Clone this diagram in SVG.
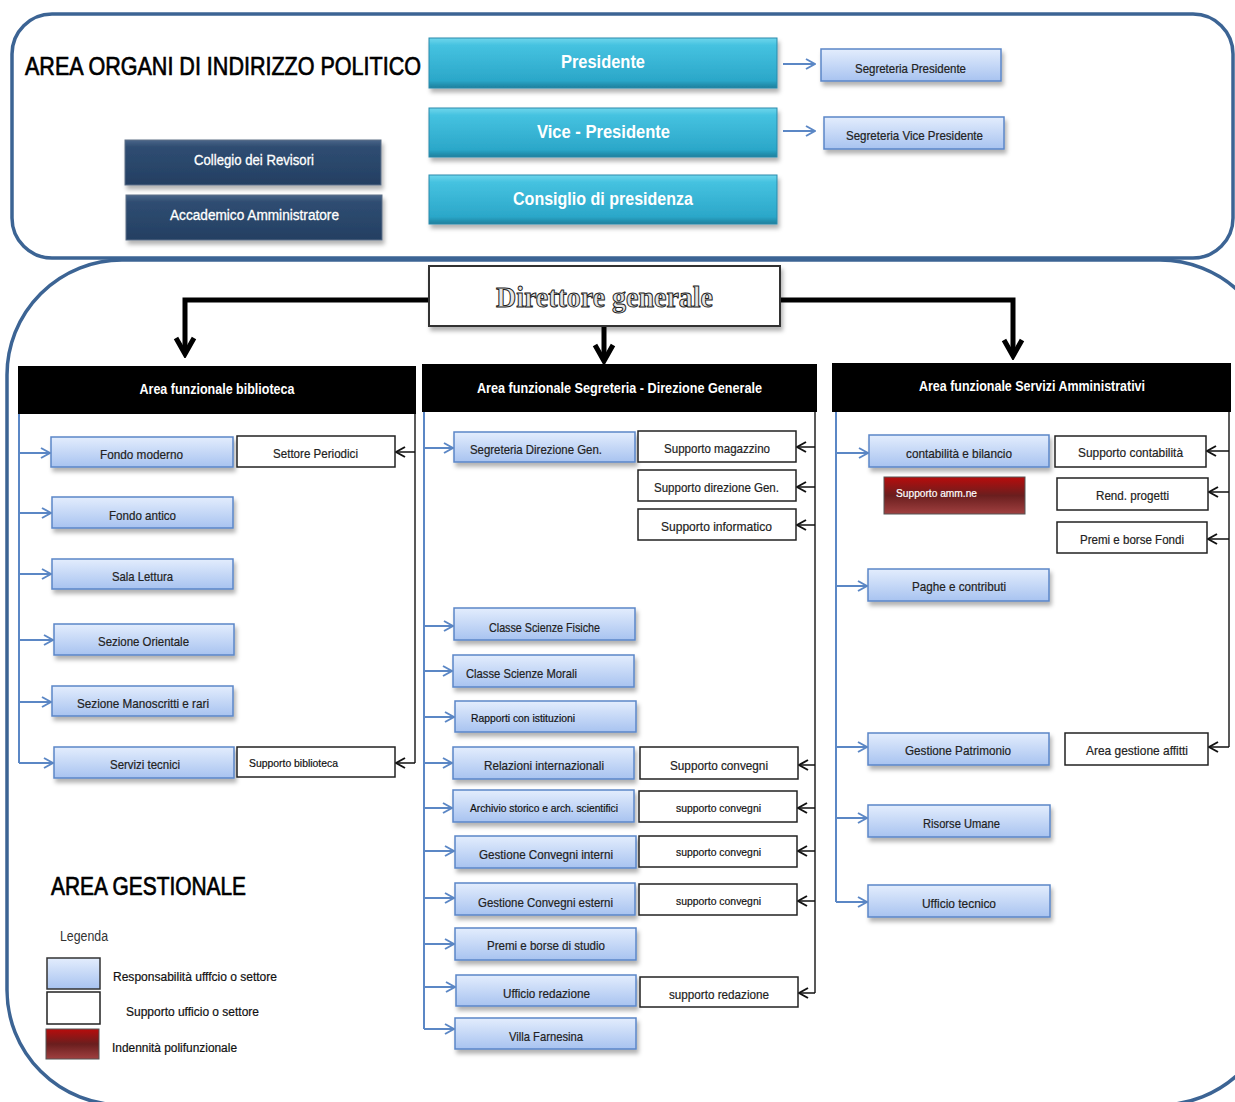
<svg xmlns="http://www.w3.org/2000/svg" width="1235" height="1102" viewBox="0 0 1235 1102">
<defs>
<linearGradient id="gBlue" x1="0" y1="0" x2="0" y2="1"><stop offset="0" stop-color="#e3edfd"/><stop offset="1" stop-color="#a8c3f0"/></linearGradient>
<linearGradient id="gTeal" x1="0" y1="0" x2="0" y2="1"><stop offset="0" stop-color="#6fd6ec"/><stop offset="0.15" stop-color="#45c2e0"/><stop offset="0.85" stop-color="#2ba7c9"/><stop offset="1" stop-color="#1d7f9c"/></linearGradient>
<linearGradient id="gNavy" x1="0" y1="0" x2="0" y2="1"><stop offset="0" stop-color="#4a6689"/><stop offset="0.15" stop-color="#2f4d72"/><stop offset="1" stop-color="#243f62"/></linearGradient>
<linearGradient id="gRed" x1="0" y1="0" x2="0" y2="1"><stop offset="0" stop-color="#b80c0c"/><stop offset="0.5" stop-color="#6a1e1e"/><stop offset="1" stop-color="#a04040"/></linearGradient>
<filter id="sh" x="-10%" y="-20%" width="125%" height="160%"><feDropShadow dx="2" dy="4" stdDeviation="2" flood-color="#000" flood-opacity="0.3"/></filter>
<marker id="mBlue" viewBox="0 0 12 12" markerWidth="12" markerHeight="12" markerUnits="userSpaceOnUse" refX="11" refY="6" orient="auto"><path d="M2,1 L11,6 L2,11" fill="none" stroke="#5b87c5" stroke-width="2"/></marker>
<marker id="mBlack" viewBox="0 0 12 12" markerWidth="12" markerHeight="12" markerUnits="userSpaceOnUse" refX="11" refY="6" orient="auto"><path d="M2,1 L11,6 L2,11" fill="none" stroke="#111" stroke-width="2"/></marker>
<marker id="mBig" viewBox="0 0 24 24" markerWidth="24" markerHeight="24" markerUnits="userSpaceOnUse" refX="20" refY="12" orient="auto"><path d="M4,3 L20,12 L4,21" fill="none" stroke="#000" stroke-width="5"/></marker>
<style>
.t{font-family:"Liberation Sans Narrow","Liberation Sans",Arial,sans-serif;}
.bx{fill:url(#gBlue);stroke:#5b86c8;stroke-width:1.5;filter:url(#sh);}
.wb{fill:#fff;stroke:#222;stroke-width:1.5;}
.teal{fill:url(#gTeal);stroke:#2a8aab;stroke-width:1;filter:url(#sh);}
.navy{fill:url(#gNavy);stroke:#5d6f86;stroke-width:1;filter:url(#sh);}
.hdr{fill:#000;}
.bt{font-size:13px;fill:#222;stroke:#222;stroke-width:0.2;}
.st{font-size:11px;fill:#111;stroke:#111;stroke-width:0.2;}
.ht{font-size:15px;fill:#fff;font-weight:bold;}
.cb{fill:none;stroke:#5b87c5;stroke-width:2;}
.ck{fill:none;stroke:#222;stroke-width:1.5;}
.bl{fill:none;stroke:#5b87c5;stroke-width:2;marker-end:url(#mBlue);}
.bk{fill:none;stroke:#111;stroke-width:1.5;marker-end:url(#mBlack);}
.big{fill:none;stroke:#000;stroke-width:5;marker-end:url(#mBig);}
.frame{fill:none;stroke:#3c6494;stroke-width:3.5;}
.title{font-size:26px;fill:#000;stroke:#000;stroke-width:0.7;}
</style>
</defs>
<rect width="1235" height="1102" fill="#fff"/>

<g id="containers">
<rect class="frame" x="12" y="14" width="1221" height="244" rx="40"/>
<rect class="frame" x="7" y="260" width="1268" height="845" rx="115"/>
<text class="t title" x="25" y="75" textLength="396" lengthAdjust="spacingAndGlyphs">AREA ORGANI DI INDIRIZZO POLITICO</text>
</g>

<g id="connectors">
<line class="bl" x1="783" y1="64" x2="815" y2="64"/>
<line class="bl" x1="783" y1="131" x2="815" y2="131"/>
<path class="big" d="M429,300 H185 V354"/>
<path class="big" d="M780,300 H1013 V356"/>
<path class="big" d="M604,326 V361"/>
<!-- biblioteca -->
<path class="cb" d="M19,414 V763"/>
<path class="ck" d="M415,414 V763"/>
<line class="bl" x1="19" y1="453" x2="50" y2="453"/>
<line class="bl" x1="19" y1="513" x2="51" y2="513"/>
<line class="bl" x1="19" y1="574" x2="51" y2="574"/>
<line class="bl" x1="19" y1="640" x2="53" y2="640"/>
<line class="bl" x1="19" y1="702" x2="51" y2="702"/>
<line class="bl" x1="19" y1="763" x2="53" y2="763"/>
<line class="bk" x1="415" y1="452" x2="396" y2="452"/>
<line class="bk" x1="415" y1="763" x2="396" y2="763"/>
<!-- segreteria -->
<path class="cb" d="M424,412 V1029"/>
<path class="ck" d="M815,412 V993"/>
<line class="bl" x1="424" y1="448" x2="453" y2="448"/>
<line class="bl" x1="424" y1="626" x2="453" y2="626"/>
<line class="bl" x1="424" y1="671" x2="452" y2="671"/>
<line class="bl" x1="424" y1="717" x2="454" y2="717"/>
<line class="bl" x1="424" y1="763" x2="452" y2="763"/>
<line class="bl" x1="424" y1="808" x2="452" y2="808"/>
<line class="bl" x1="424" y1="851" x2="454" y2="851"/>
<line class="bl" x1="424" y1="898" x2="454" y2="898"/>
<line class="bl" x1="424" y1="944" x2="454" y2="944"/>
<line class="bl" x1="424" y1="987" x2="455" y2="987"/>
<line class="bl" x1="424" y1="1029" x2="454" y2="1029"/>
<line class="bk" x1="815" y1="447" x2="797" y2="447"/>
<line class="bk" x1="815" y1="487" x2="797" y2="487"/>
<line class="bk" x1="815" y1="525" x2="797" y2="525"/>
<line class="bk" x1="815" y1="765" x2="799" y2="765"/>
<line class="bk" x1="815" y1="808" x2="798" y2="808"/>
<line class="bk" x1="815" y1="851" x2="798" y2="851"/>
<line class="bk" x1="815" y1="901" x2="798" y2="901"/>
<line class="bk" x1="815" y1="993" x2="799" y2="993"/>
<!-- servizi amministrativi -->
<path class="cb" d="M836,412 V902"/>
<path class="ck" d="M1229,412 V747"/>
<line class="bl" x1="836" y1="453" x2="868" y2="453"/>
<line class="bl" x1="836" y1="586" x2="867" y2="586"/>
<line class="bl" x1="836" y1="747" x2="867" y2="747"/>
<line class="bl" x1="836" y1="818" x2="867" y2="818"/>
<line class="bl" x1="836" y1="902" x2="867" y2="902"/>
<line class="bk" x1="1229" y1="451" x2="1207" y2="451"/>
<line class="bk" x1="1229" y1="492" x2="1209" y2="492"/>
<line class="bk" x1="1229" y1="539" x2="1208" y2="539"/>
<line class="bk" x1="1229" y1="747" x2="1209" y2="747"/>
</g>

<!-- top area -->
<g id="presidente"><rect class="teal" x="429" y="38" width="348" height="50"/><text class="t" x="603" y="68" text-anchor="middle" font-size="18" font-weight="bold" fill="#fff" textLength="84" lengthAdjust="spacingAndGlyphs">Presidente</text></g>
<g id="vice-presidente"><rect class="teal" x="429" y="108" width="348" height="49"/><text class="t" x="603.5" y="138" text-anchor="middle" font-size="18" font-weight="bold" fill="#fff" textLength="133" lengthAdjust="spacingAndGlyphs">Vice - Presidente</text></g>
<g id="consiglio"><rect class="teal" x="429" y="175" width="348" height="49"/><text class="t" x="603" y="205" text-anchor="middle" font-size="18" font-weight="bold" fill="#fff" textLength="180" lengthAdjust="spacingAndGlyphs">Consiglio di presidenza</text></g>
<g id="segr-presidente"><rect class="bx" x="821" y="49" width="180" height="32"/><text class="t bt" x="910.5" y="73" text-anchor="middle" font-size="12" textLength="111" lengthAdjust="spacingAndGlyphs">Segreteria Presidente</text></g>
<g id="segr-vice"><rect class="bx" x="824" y="117" width="180" height="32"/><text class="t bt" x="914.5" y="140" text-anchor="middle" font-size="12" textLength="137" lengthAdjust="spacingAndGlyphs">Segreteria Vice Presidente</text></g>
<g id="collegio"><rect class="navy" x="125" y="140" width="256" height="45"/><text class="t" x="254" y="165" text-anchor="middle" font-size="14" fill="#fff" stroke="#fff" stroke-width="0.3" textLength="120" lengthAdjust="spacingAndGlyphs">Collegio dei Revisori</text></g>
<g id="accademico"><rect class="navy" x="126" y="195" width="256" height="45"/><text class="t" x="254.5" y="220" text-anchor="middle" font-size="14" fill="#fff" stroke="#fff" stroke-width="0.3" textLength="169" lengthAdjust="spacingAndGlyphs">Accademico Amministratore</text></g>

<g id="direttore"><rect x="429" y="266" width="351" height="60" fill="#fff" stroke="#333" stroke-width="2" filter="url(#sh)"/><text x="604.5" y="307" text-anchor="middle" font-family="'Liberation Serif','DejaVu Serif',serif" font-size="29" font-weight="bold" fill="#e6e6e6" stroke="#222" stroke-width="1" textLength="217" lengthAdjust="spacingAndGlyphs">Direttore generale</text></g>

<!-- headers -->
<g id="hdr-biblioteca"><rect class="hdr" x="18" y="366" width="398" height="48"/><text class="t ht" x="217" y="394" text-anchor="middle" textLength="155" lengthAdjust="spacingAndGlyphs">Area funzionale biblioteca</text></g>
<g id="hdr-segreteria"><rect class="hdr" x="422" y="364" width="395" height="48"/><text class="t ht" x="619.5" y="393" text-anchor="middle" textLength="285" lengthAdjust="spacingAndGlyphs">Area funzionale Segreteria  - Direzione Generale</text></g>
<g id="hdr-servizi"><rect class="hdr" x="832" y="363" width="399" height="49"/><text class="t ht" x="1032" y="391" text-anchor="middle" textLength="226" lengthAdjust="spacingAndGlyphs">Area funzionale Servizi Amministrativi</text></g>

<!-- biblioteca -->
<g id="fondo-moderno"><rect class="bx" x="51" y="437" width="182" height="30"/><text class="t bt" x="141.5" y="459" text-anchor="middle" textLength="83" lengthAdjust="spacingAndGlyphs">Fondo moderno</text></g>
<g id="settore-periodici"><rect class="wb" x="237" y="436" width="158" height="31"/><text class="t bt" x="315.5" y="458" text-anchor="middle" textLength="85" lengthAdjust="spacingAndGlyphs">Settore Periodici</text></g>
<g id="fondo-antico"><rect class="bx" x="52" y="497" width="181" height="31"/><text class="t bt" x="142.5" y="520" text-anchor="middle" textLength="67" lengthAdjust="spacingAndGlyphs">Fondo antico</text></g>
<g id="sala-lettura"><rect class="bx" x="52" y="559" width="181" height="30"/><text class="t bt" x="142.5" y="581" text-anchor="middle" textLength="61" lengthAdjust="spacingAndGlyphs">Sala Lettura</text></g>
<g id="sezione-orientale"><rect class="bx" x="54" y="624" width="180" height="31"/><text class="t bt" x="143.5" y="646" text-anchor="middle" textLength="91" lengthAdjust="spacingAndGlyphs">Sezione Orientale</text></g>
<g id="sezione-manoscritti"><rect class="bx" x="52" y="686" width="181" height="30"/><text class="t bt" x="143" y="708" text-anchor="middle" textLength="132" lengthAdjust="spacingAndGlyphs">Sezione Manoscritti e rari</text></g>
<g id="servizi-tecnici"><rect class="bx" x="54" y="747" width="180" height="31"/><text class="t bt" x="145" y="769" text-anchor="middle" textLength="70" lengthAdjust="spacingAndGlyphs">Servizi tecnici</text></g>
<g id="supporto-biblioteca"><rect class="wb" x="237" y="747" width="158" height="30"/><text class="t st" x="249" y="767" textLength="89" lengthAdjust="spacingAndGlyphs">Supporto biblioteca</text></g>

<!-- segreteria -->
<g id="segreteria-dg"><rect class="bx" x="454" y="432" width="181" height="30"/><text class="t bt" x="536" y="454" text-anchor="middle" textLength="132" lengthAdjust="spacingAndGlyphs">Segreteria Direzione Gen.</text></g>
<g id="supporto-magazzino"><rect class="wb" x="638" y="431" width="158" height="31"/><text class="t bt" x="717" y="453" text-anchor="middle" textLength="106" lengthAdjust="spacingAndGlyphs">Supporto magazzino</text></g>
<g id="supporto-direzione"><rect class="wb" x="638" y="470" width="158" height="31"/><text class="t bt" x="716.5" y="492" text-anchor="middle" textLength="125" lengthAdjust="spacingAndGlyphs">Supporto direzione Gen.</text></g>
<g id="supporto-informatico"><rect class="wb" x="638" y="509" width="158" height="31"/><text class="t bt" x="716.5" y="531" text-anchor="middle" textLength="111" lengthAdjust="spacingAndGlyphs">Supporto informatico</text></g>
<g id="classe-fisiche"><rect class="bx" x="454" y="608" width="181" height="32"/><text class="t bt" x="544.5" y="632" text-anchor="middle" textLength="111" lengthAdjust="spacingAndGlyphs">Classe Scienze Fisiche</text></g>
<g id="classe-morali"><rect class="bx" x="453" y="655" width="181" height="32"/><text class="t bt" x="521.5" y="678" text-anchor="middle" textLength="111" lengthAdjust="spacingAndGlyphs">Classe Scienze Morali</text></g>
<g id="rapporti"><rect class="bx" x="455" y="701" width="181" height="31"/><text class="t st" x="523" y="722" text-anchor="middle" textLength="104" lengthAdjust="spacingAndGlyphs">Rapporti con istituzioni</text></g>
<g id="relazioni"><rect class="bx" x="453" y="747" width="181" height="32"/><text class="t bt" x="544" y="770" text-anchor="middle" textLength="120" lengthAdjust="spacingAndGlyphs">Relazioni internazionali</text></g>
<g id="supporto-convegni-1"><rect class="wb" x="640" y="747" width="158" height="32"/><text class="t bt" x="719" y="770" text-anchor="middle" textLength="98" lengthAdjust="spacingAndGlyphs">Supporto convegni</text></g>
<g id="archivio"><rect class="bx" x="453" y="790" width="181" height="32"/><text class="t st" x="544" y="812" text-anchor="middle" textLength="148" lengthAdjust="spacingAndGlyphs">Archivio storico e arch. scientifici</text></g>
<g id="supporto-convegni-2"><rect class="wb" x="639" y="791" width="158" height="31"/><text class="t st" x="718.5" y="812" text-anchor="middle" textLength="85" lengthAdjust="spacingAndGlyphs">supporto convegni</text></g>
<g id="convegni-interni"><rect class="bx" x="455" y="836" width="181" height="32"/><text class="t bt" x="546" y="859" text-anchor="middle" textLength="134" lengthAdjust="spacingAndGlyphs">Gestione Convegni interni</text></g>
<g id="supporto-convegni-3"><rect class="wb" x="639" y="836" width="158" height="31"/><text class="t st" x="718.5" y="856" text-anchor="middle" textLength="85" lengthAdjust="spacingAndGlyphs">supporto convegni</text></g>
<g id="convegni-esterni"><rect class="bx" x="455" y="883" width="180" height="32"/><text class="t bt" x="545.5" y="907" text-anchor="middle" textLength="135" lengthAdjust="spacingAndGlyphs">Gestione Convegni esterni</text></g>
<g id="supporto-convegni-4"><rect class="wb" x="639" y="884" width="158" height="31"/><text class="t st" x="718.5" y="905" text-anchor="middle" textLength="85" lengthAdjust="spacingAndGlyphs">supporto convegni</text></g>
<g id="premi-borse-studio"><rect class="bx" x="455" y="928" width="181" height="32"/><text class="t bt" x="546" y="950" text-anchor="middle" textLength="118" lengthAdjust="spacingAndGlyphs">Premi e borse di studio</text></g>
<g id="ufficio-redazione"><rect class="bx" x="456" y="975" width="180" height="31"/><text class="t bt" x="546.5" y="998" text-anchor="middle" textLength="87" lengthAdjust="spacingAndGlyphs">Ufficio redazione</text></g>
<g id="supporto-redazione"><rect class="wb" x="640" y="977" width="158" height="30"/><text class="t bt" x="719" y="999" text-anchor="middle" textLength="100" lengthAdjust="spacingAndGlyphs">supporto redazione</text></g>
<g id="villa-farnesina"><rect class="bx" x="455" y="1018" width="181" height="31"/><text class="t bt" x="546" y="1041" text-anchor="middle" textLength="74" lengthAdjust="spacingAndGlyphs">Villa Farnesina</text></g>

<!-- servizi amministrativi -->
<g id="contabilita"><rect class="bx" x="869" y="435" width="180" height="32"/><text class="t bt" x="959" y="458" text-anchor="middle" textLength="106" lengthAdjust="spacingAndGlyphs">contabilità e bilancio</text></g>
<g id="supporto-contabilita"><rect class="wb" x="1055" y="436" width="151" height="31"/><text class="t bt" x="1130.5" y="457" text-anchor="middle" textLength="105" lengthAdjust="spacingAndGlyphs">Supporto contabilità</text></g>
<g id="supporto-ammne"><rect x="884" y="477" width="141" height="37" fill="url(#gRed)" stroke="#555" stroke-width="1"/><text class="t" x="896" y="497" font-size="11" fill="#fff" stroke="#fff" stroke-width="0.2" textLength="81" lengthAdjust="spacingAndGlyphs">Supporto amm.ne</text></g>
<g id="rend-progetti"><rect class="wb" x="1057" y="478" width="151" height="32"/><text class="t bt" x="1132.5" y="500" text-anchor="middle" textLength="73" lengthAdjust="spacingAndGlyphs">Rend. progetti</text></g>
<g id="premi-borse-fondi"><rect class="wb" x="1057" y="522" width="150" height="31"/><text class="t bt" x="1132" y="544" text-anchor="middle" textLength="104" lengthAdjust="spacingAndGlyphs">Premi e borse Fondi</text></g>
<g id="paghe"><rect class="bx" x="868" y="569" width="181" height="32"/><text class="t bt" x="959" y="591" text-anchor="middle" textLength="94" lengthAdjust="spacingAndGlyphs">Paghe e contributi</text></g>
<g id="patrimonio"><rect class="bx" x="868" y="733" width="181" height="32"/><text class="t bt" x="958" y="755" text-anchor="middle" textLength="106" lengthAdjust="spacingAndGlyphs">Gestione Patrimonio</text></g>
<g id="affitti"><rect class="wb" x="1065" y="733" width="143" height="32"/><text class="t bt" x="1137" y="755" text-anchor="middle" textLength="102" lengthAdjust="spacingAndGlyphs">Area gestione affitti</text></g>
<g id="risorse-umane"><rect class="bx" x="868" y="805" width="182" height="32"/><text class="t bt" x="961.5" y="828" text-anchor="middle" textLength="77" lengthAdjust="spacingAndGlyphs">Risorse Umane</text></g>
<g id="ufficio-tecnico"><rect class="bx" x="868" y="885" width="182" height="32"/><text class="t bt" x="959" y="908" text-anchor="middle" textLength="74" lengthAdjust="spacingAndGlyphs">Ufficio tecnico</text></g>

<!-- legend -->
<g id="legenda">
<text class="t title" x="51" y="895" textLength="195" lengthAdjust="spacingAndGlyphs">AREA GESTIONALE</text>
<text class="t" x="60" y="941" font-size="14" fill="#333" textLength="48" lengthAdjust="spacingAndGlyphs">Legenda</text>
<rect x="47" y="958" width="53" height="31" fill="url(#gBlue)" stroke="#333" stroke-width="1.5"/>
<text class="t" x="113" y="981" font-size="12" fill="#111" stroke="#111" stroke-width="0.2" textLength="164" lengthAdjust="spacingAndGlyphs">Responsabilità ufffcio o settore</text>
<rect x="47" y="992" width="53" height="32" fill="#fff" stroke="#222" stroke-width="1.5"/>
<text class="t" x="126" y="1016" font-size="12" fill="#111" stroke="#111" stroke-width="0.2" textLength="133" lengthAdjust="spacingAndGlyphs">Supporto ufficio o settore</text>
<rect x="46" y="1029" width="53" height="30" fill="url(#gRed)" stroke="#555" stroke-width="1"/>
<text class="t" x="112" y="1052" font-size="12" fill="#111" stroke="#111" stroke-width="0.2" textLength="125" lengthAdjust="spacingAndGlyphs">Indennità polifunzionale</text>
</g>
</svg>
